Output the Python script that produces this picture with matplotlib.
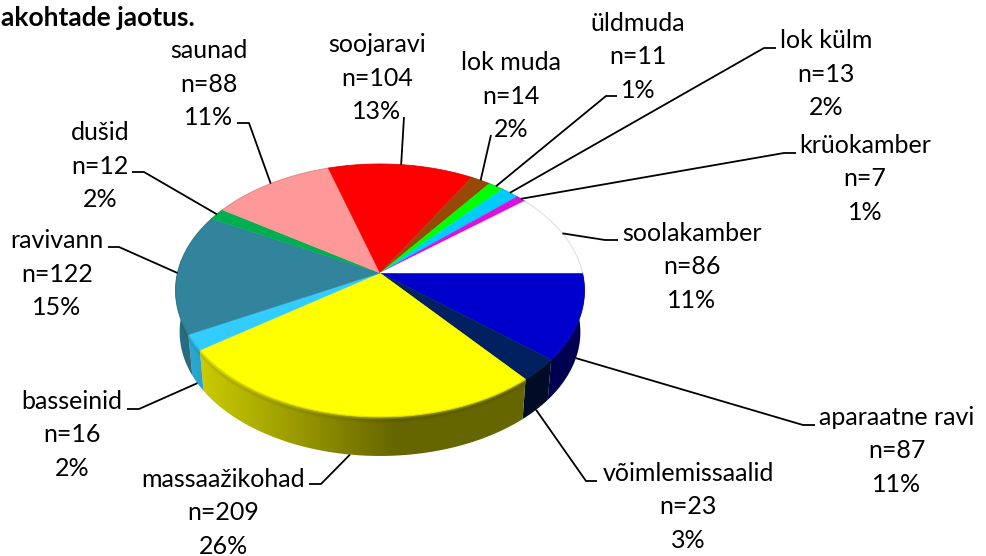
import numpy as np
import matplotlib
matplotlib.use("Agg")
import matplotlib.pyplot as plt
from matplotlib.patches import Polygon
from matplotlib.colors import to_rgb

plt.rcParams["font.family"] = ["Lato", "DejaVu Sans"]

# slices clockwise, starting from 3 o'clock
names = ["aparaatne ravi", "võimlemissaalid", "massaažikohad", "basseinid", "ravivann",
         "dušid", "saunad", "soojaravi", "lok muda", "üldmuda", "lok külm", "krüokamber",
         "soolakamber"]
counts = [87, 23, 209, 16, 122, 12, 88, 104, 14, 11, 13, 7, 86]
colors = ["#0000cc", "#002060", "#ffff00", "#33ccff", "#31849b", "#00b050", "#ff9999",
          "#ff0000", "#984807", "#00ff00", "#00ccff", "#dd11dd", "#ffffff"]
title = "akohtade jaotus."

# layout, in pixels of the 986x556 picture
label_xy = [(897, 451), (688, 507), (223, 513), (72, 435), (57, 274), (100, 166), (209, 84),
            (377, 78), (511, 96), (638, 57), (826, 74), (865, 179), (692, 267)]
elbows = [[(815, 425), (803, 425)], [(597, 481), (586, 481)], [(309, 484), (321, 484)],
          [(127, 409), (139, 409)], [(108, 247), (119, 247)], [(132, 172), (144, 172)],
          [(237, 123), (249, 123)], [(404, 117)], [(491, 135)], [(617, 96), (606, 96)],
          [(776, 48), (764, 48)], [(796, 153), (784, 153)], [(618, 240), (605, 240)]]
on_bottom_rim = [True, True, True, True] + [False] * 9

CX, CY = 380, 273
A, B, K = 202.5, 124, 0.138   # perspective of the pie top
DEPTH, SHRINK = 42, 0.98
FONT = 18


def top_xy(deg):
    u, v = np.cos(np.radians(deg)), -np.sin(np.radians(deg))
    w = 1 + K * v
    return CX + A * u / w, CY - B * v / w


def low_xy(deg):
    x, y = top_xy(deg)
    return CX + (x - CX) * SHRINK, CY + (y - CY) * SHRINK + DEPTH


fig = plt.figure(figsize=(9.86, 5.56), dpi=100)
ax = fig.add_axes([0, 0, 1, 1])

total = sum(counts)
edges = np.concatenate([[0], np.cumsum(counts)]) / total * 360

# shading of the side wall, per pixel: dark to the right, bevel under the top rim
X, Y = np.meshgrid(np.arange(150, 610) + 0.5, np.arange(260, 470) + 0.5)
front = np.linspace(0, 180, 400)
rim_x, rim_y = top_xy(front)
rim_at_x = np.interp(X, rim_x[::-1], rim_y[::-1])
d = (Y - rim_at_x) / DEPTH
base = np.interp(X, [190, 395], [0.82, 0.40])
mix = np.interp(d, [0, 0.03, 0.08, 0.16], [0.55, 0.2, -0.10, 0.0])
fac = np.where(mix >= 0, base + mix * (1 - base), base * (1 + mix))

for i, col in enumerate(colors):
    if edges[i] > 180:
        continue
    angs = np.linspace(edges[i], edges[i + 1], 80)
    up = np.column_stack(top_xy(angs))
    low = np.array([low_xy(a) for a in angs])
    wall = Polygon(np.vstack([up, low[::-1]]), closed=True, transform=ax.transData,
                   facecolor="none", edgecolor="none")
    ax.add_patch(wall)
    img = fac[..., None] * np.array(to_rgb(col))
    im = ax.imshow(img, extent=(150, 610, 470, 260), origin="upper", aspect="auto",
                   interpolation="bilinear", zorder=2)
    im.set_clip_path(wall)

ax.set_xlim(0, 986)
ax.set_ylim(556, 0)
ax.axis("off")

# top face
for i, col in enumerate(colors):
    angs = np.linspace(edges[i], edges[i + 1], 60)
    rim = [top_xy(a) for a in angs]
    ax.fill(*zip(*([(CX, CY)] + rim)), facecolor=col, edgecolor=col, linewidth=0.3, zorder=3)
    rim_col = np.array(to_rgb(col)) * 0.8
    ax.plot(*zip(*rim), color=rim_col, lw=0.8, alpha=0.6, zorder=4)

# labels and leader lines
for i, name in enumerate(names):
    mid = (edges[i] + edges[i + 1]) / 2
    end = low_xy(mid) if on_bottom_rim[i] else top_xy(mid)
    pts = elbows[i] + [end]
    ax.plot(*zip(*pts), color="black", lw=1.3, solid_capstyle="butt", solid_joinstyle="round", zorder=5)
    pct = round(counts[i] / total * 100)
    ax.text(label_xy[i][0], label_xy[i][1], f"{name}\nn={counts[i]}\n{pct}%", ha="center", va="center",
            ma="center", fontsize=FONT, linespacing=1.53, color="black", zorder=6)

ax.text(195, 18, title, ha="right", va="center", fontsize=19, fontweight="bold", color="black")

fig.savefig("out.png", dpi=100)
